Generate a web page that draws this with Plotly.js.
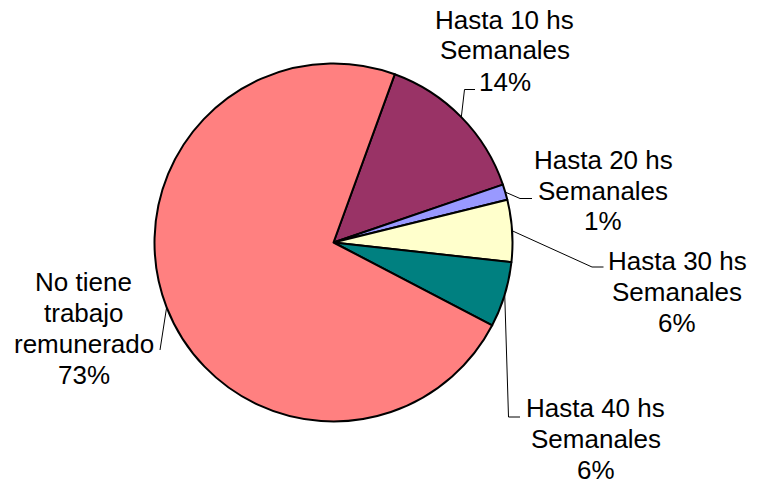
<!DOCTYPE html>
<html><head><meta charset="utf-8">
<script src="https://cdn.plot.ly/plotly-3.0.1.min.js"></script>
<style>html,body{margin:0;padding:0;background:#fff}#chart{width:763px;height:484px}</style>
</head><body><div id="chart"></div>
<script>
// ---- data ----
const categories = ["Hasta 10 hs Semanales","Hasta 20 hs Semanales","Hasta 30 hs Semanales","Hasta 40 hs Semanales","No tiene trabajo remunerado"];
const labelLines = [["Hasta 10 hs","Semanales"],["Hasta 20 hs","Semanales"],["Hasta 30 hs","Semanales"],["Hasta 40 hs","Semanales"],["No tiene","trabajo","remunerado"]];
const values = [14.2, 1.4, 5.6, 5.9, 72.9];
const colors = ["#993366","#9999FF","#FFFFCC","#008080","#FF8080"];

// ---- layout geometry (pixels) ----
const W = 763, H = 484;
const CX = 333.5, CY = 242.5, R = 179;
const ROT = 20;
const LS = 31;
const labelPos = [
  {x:505,   y:19.5,  elbow:[464.5,89.5], end:[475,89.5]},
  {x:603,   y:159.5, elbow:[520,198.5],  end:[532,198.5]},
  {x:677,   y:261,   elbow:[592,267],    end:[603.5,267]},
  {x:595.5, y:407.5, elbow:[508.5,417],  end:[520,417]},
  {x:83.5,  y:281.5, elbow:[160,350],    end:[160,350]}
];

const total = values.reduce((a,b)=>a+b,0);
const px = x => x / W, py = y => 1 - y / H;
const FONT = {family:"Liberation Sans, Arial, sans-serif", size:26, color:"#000"};

const shapes = [], annotations = [];
let ang = ROT;
values.forEach((v,i)=>{
  const mid = (ang + v/total*180) * Math.PI/180;
  ang += v/total*360;
  const ex = CX + R*Math.sin(mid), ey = CY - R*Math.cos(mid);
  const p = labelPos[i];
  shapes.push({type:"path", xref:"paper", yref:"paper",
    path:`M ${px(ex)} ${py(ey)} L ${px(p.elbow[0])} ${py(p.elbow[1])} L ${px(p.end[0])} ${py(p.end[1])}`,
    line:{color:"#000", width:1}});
  const lines = labelLines[i].concat([Math.round(v/total*100) + "%"]);
  lines.forEach((t,j)=>{
    annotations.push({text:t, x:px(p.x), y:py(p.y + j*LS), xref:"paper", yref:"paper",
      xanchor:"center", yanchor:"middle", showarrow:false, font:FONT});
  });
});

const trace = {
  type:"pie", labels:categories, values:values, sort:false,
  direction:"clockwise", rotation:ROT, textinfo:"none", hoverinfo:"none",
  marker:{colors:colors, line:{color:"#000", width:2}},
  domain:{x:[(CX-R)/W,(CX+R)/W], y:[(H-CY-R)/H,(H-CY+R)/H]},
  showlegend:false
};

Plotly.newPlot("chart",[trace],{
  width:W, height:H, margin:{l:0,r:0,t:0,b:0},
  paper_bgcolor:"#fff", plot_bgcolor:"#fff",
  showlegend:false, shapes:shapes, annotations:annotations
},{staticPlot:true});
</script></body></html>
